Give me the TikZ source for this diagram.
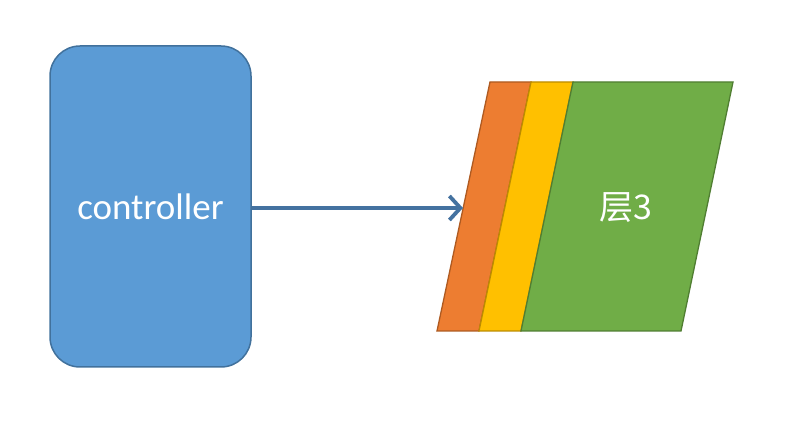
\documentclass[tikz,border=0pt]{standalone}
\usepackage{fontspec}
\setmainfont{Carlito}
\newfontfamily\cjk{Noto Sans CJK SC}
\usetikzlibrary{arrows.meta}
\definecolor{ctrlfill}{HTML}{5B9BD5}
\definecolor{ctrlline}{HTML}{41719C}
\definecolor{orfill}{HTML}{ED7D31}
\definecolor{orline}{HTML}{AE5A21}
\definecolor{yefill}{HTML}{FFC000}
\definecolor{yeline}{HTML}{BC8C00}
\definecolor{grfill}{HTML}{70AD47}
\definecolor{grline}{HTML}{507E32}
\definecolor{arrowc}{HTML}{4472A0}
\tikzset{
  ctrlbox/.style={draw=ctrlline, fill=ctrlfill, line width=1.5pt, rounded corners=30pt,
    minimum width=201pt, minimum height=321pt, inner sep=0pt, text=white,
    font=\fontsize{37}{44}\selectfont},
  strip/.style={line width=1.3pt, line join=miter},
  conn/.style={draw=arrowc, line width=3.8pt, -{Straight Barb[length=11pt,width=24pt,line width=3.8pt]}}
}
\begin{document}
\begin{tikzpicture}[x=1pt,y=-1pt]
\useasboundingbox (0,0) rectangle (804,438);
\node[ctrlbox] (ctrl) at (150.5,206.5) {controller};
% layers
\draw[strip, draw=orline, fill=orfill] (437,331) -- (490,82) -- (531,82) -- (479,331) -- cycle;
\draw[strip, draw=yeline, fill=yefill] (479,331) -- (531,82) -- (573,82) -- (521,331) -- cycle;
\draw[strip, draw=grline, fill=grfill] (521,331) -- (573,82) -- (733,82) -- (681,331) -- cycle;
\node[text=white, font=\cjk\fontsize{34}{40}\selectfont, inner sep=0pt] (layer) at (626,208) {层3};
\coordinate (target) at (463,208);
\draw[conn] (ctrl.east |- target) -- (target);
\end{tikzpicture}
\end{document}
